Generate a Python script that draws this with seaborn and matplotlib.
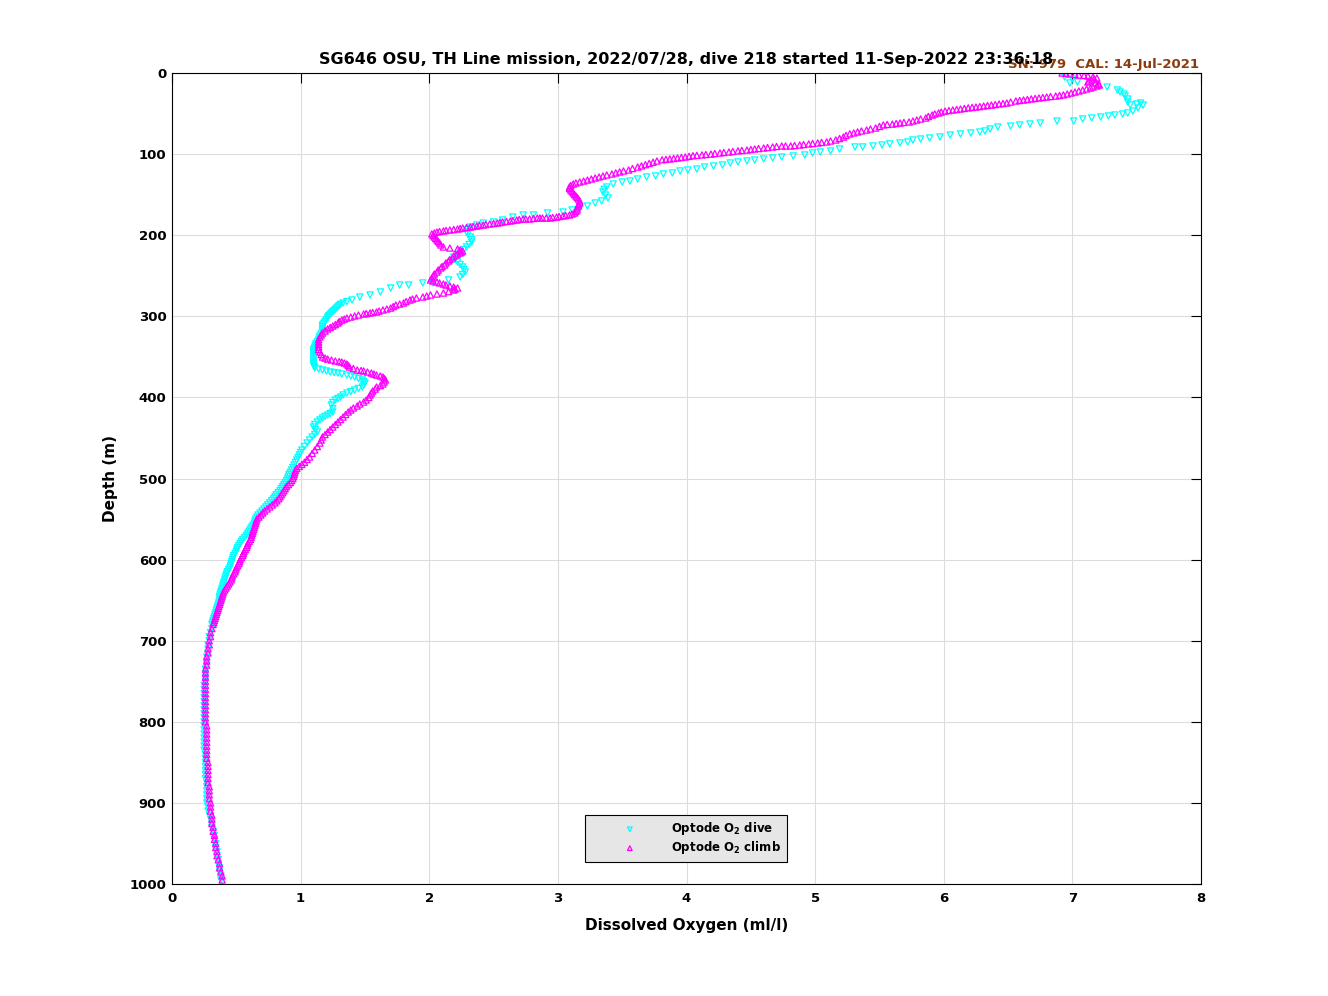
import numpy as np
import pandas as pd
import matplotlib
matplotlib.use("Agg")
import matplotlib.pyplot as plt
import seaborn as sns

# dive (optode O2, descending) - depth in m, O2 in ml/l
dive_depth = [
    4.9, 7.4, 11.1, 12.3, 17.3, 21.0, 23.4, 25.9, 28.4, 32.1, 35.8, 39.5, 38.2, 37.0, 39.5,
    43.2, 46.9, 49.3, 50.6, 51.8, 53.0, 54.3, 55.5, 56.7, 59.2, 59.2, 61.7, 62.9, 64.1, 65.4,
    66.6, 69.1, 71.5, 72.8, 74.0, 75.2, 76.5, 78.9, 80.2, 81.4, 82.6, 85.1, 86.3, 87.5, 88.8,
    90.0, 91.2, 91.2, 93.7, 96.2, 97.4, 98.6, 101.1, 102.3, 103.6, 104.8, 106.0, 107.3, 108.5,
    109.7, 111.0, 113.4, 114.7, 115.9, 118.4, 119.6, 120.8, 123.3, 124.5, 127.0, 128.2, 130.7,
    133.2, 134.4, 136.9, 140.6, 143.5, 146.7, 150.4, 154.1, 157.8, 160.3, 164.0, 166.5, 168.9,
    171.4, 172.6, 175.1, 175.1, 177.6, 181.3, 183.7, 185.0, 187.4, 189.9, 193.0, 196.1, 199.0,
    202.2, 205.3, 208.4, 211.5, 214.5, 217.6, 220.7, 223.8, 226.9, 230.0, 233.0, 236.1, 239.2,
    242.3, 245.4, 248.5, 251.5, 255.2, 258.9, 258.9, 261.4, 261.4, 265.1, 270.0, 273.7, 276.2,
    279.9, 281.8, 283.6, 285.2, 286.7, 288.3, 289.8, 291.3, 292.9, 294.4, 295.9, 297.5, 299.0,
    300.6, 302.1, 304.3, 306.4, 308.6, 310.7, 312.9, 315.0, 317.2, 319.4, 321.8, 324.3, 326.7,
    329.2, 331.4, 333.5, 335.7, 337.9, 339.7, 341.6, 343.4, 345.3, 348.0, 350.8, 353.6, 356.4,
    358.2, 360.0, 361.8, 363.7, 365.0, 366.2, 367.4, 368.7, 369.3, 369.9, 371.2, 372.4, 373.6,
    374.8, 376.7, 378.5, 380.3, 382.2, 384.7, 387.2, 389.0, 390.9, 392.8, 394.6, 397.0, 399.5,
    401.4, 403.2, 406.3, 409.4, 413.7, 418.0, 419.9, 421.7, 423.5, 425.4, 427.8, 430.3, 433.4,
    436.5, 439.6, 442.7, 445.8, 448.8, 452.5, 456.2, 460.5, 464.9, 468.0, 471.0, 474.1, 477.2,
    480.2, 483.3, 486.4, 489.5,
    492.5, 495, 497.5, 500, 502.5, 505, 507.5, 510, 512.5, 515, 517.5, 520, 522.5, 525, 527.5,
    530, 532.5, 535, 537.5, 540, 542.5, 545, 547.5, 550, 552.5, 555, 557.5, 560, 562.5, 565,
    567.5, 570, 572.5, 575, 577.5, 580, 582.5, 585, 587.5, 590, 592.5, 595, 597.5, 600, 602.5,
    605, 607.5, 610, 612.5, 615, 617.5, 620, 622.5, 625, 627.5, 630, 632.5, 635, 637.5, 640,
    642.5, 645, 647.5, 650, 652.5, 655, 657.5, 660, 662.5, 665, 667.5, 670, 672.5, 675, 677.5,
    680,
    685, 690, 695, 700, 705, 710, 715, 720, 725, 730, 735, 740, 745, 750, 755, 760,
    765, 770, 775, 780, 785, 790, 795, 800, 805, 810, 815, 820, 825, 830, 835, 840, 845, 850,
    855, 860, 865, 870, 875, 880, 885, 890, 895, 900, 905, 910, 915, 920, 925, 930, 935, 940,
    945, 950, 955, 960, 965, 970, 975, 980, 985, 990, 995,
]
dive_o2 = [
    6.94, 7.00, 7.04, 6.98, 7.27, 7.35, 7.37, 7.40, 7.41, 7.43, 7.43, 7.45, 7.50, 7.53, 7.55,
    7.51, 7.47, 7.43, 7.39, 7.33, 7.28, 7.22, 7.15, 7.08, 7.01, 6.88, 6.75, 6.67, 6.59, 6.52,
    6.42, 6.36, 6.32, 6.28, 6.21, 6.13, 6.05, 5.97, 5.89, 5.82, 5.76, 5.72, 5.66, 5.58, 5.52,
    5.45, 5.37, 5.31, 5.19, 5.12, 5.04, 4.98, 4.92, 4.83, 4.74, 4.67, 4.60, 4.53, 4.47,
    4.40, 4.34, 4.28, 4.21, 4.14, 4.08, 4.01, 3.95, 3.89, 3.82, 3.76, 3.69, 3.62,
    3.56, 3.50, 3.43, 3.38, 3.36, 3.35, 3.37, 3.39, 3.34, 3.29, 3.23, 3.17, 3.11,
    3.04, 2.92, 2.81, 2.73, 2.65, 2.57, 2.50, 2.42, 2.37, 2.32, 2.30, 2.29, 2.30,
    2.32, 2.33, 2.33, 2.31, 2.29, 2.27, 2.24, 2.21, 2.19, 2.20, 2.22, 2.24, 2.26,
    2.27, 2.28, 2.26, 2.24, 2.15, 2.03, 1.95, 1.84, 1.77, 1.70, 1.62, 1.54, 1.46,
    1.40, 1.36, 1.33, 1.31, 1.30, 1.29, 1.28, 1.27, 1.26, 1.25, 1.24, 1.23, 1.22,
    1.215, 1.21, 1.20, 1.19, 1.18, 1.17, 1.17, 1.17, 1.17, 1.17, 1.16, 1.15, 1.145,
    1.14, 1.13, 1.12, 1.115, 1.11, 1.105, 1.10, 1.10, 1.10, 1.10, 1.10, 1.10, 1.10,
    1.10, 1.10, 1.105, 1.11, 1.14, 1.17, 1.20, 1.23, 1.26, 1.29, 1.32, 1.36, 1.39,
    1.42, 1.45, 1.48, 1.49, 1.50, 1.49, 1.48, 1.45, 1.42, 1.39, 1.36, 1.33, 1.31,
    1.29, 1.27, 1.25, 1.24, 1.25, 1.25, 1.23, 1.21, 1.19, 1.17, 1.15, 1.13, 1.11,
    1.10, 1.115, 1.13, 1.11, 1.09, 1.07, 1.05, 1.03, 1.01, 1.00, 0.99, 0.98, 0.97,
    0.96, 0.95, 0.94, 0.93,
    0.92, 0.91, 0.905, 0.90, 0.89, 0.88, 0.87, 0.86, 0.85, 0.84, 0.825, 0.81, 0.80, 0.79, 0.775,
    0.76, 0.745, 0.73, 0.715, 0.70, 0.685, 0.67, 0.66, 0.65, 0.645, 0.64, 0.63, 0.62, 0.61, 0.60,
    0.59, 0.58, 0.565, 0.55, 0.54, 0.53, 0.52, 0.51, 0.505, 0.50, 0.49, 0.48, 0.475, 0.47, 0.465,
    0.46, 0.455, 0.45, 0.44, 0.43, 0.425, 0.42, 0.415, 0.41, 0.405, 0.40, 0.395, 0.39, 0.385, 0.38,
    0.375, 0.37, 0.37, 0.37, 0.365, 0.36, 0.355, 0.35, 0.345, 0.34, 0.335, 0.33, 0.325, 0.32, 0.315,
    0.31,
    0.31, 0.30, 0.29, 0.29, 0.28, 0.28, 0.28, 0.27, 0.27, 0.27, 0.26, 0.26, 0.26, 0.26, 0.25, 0.25,
    0.25, 0.25, 0.25, 0.25, 0.25, 0.25, 0.25, 0.25, 0.25, 0.25, 0.25, 0.25, 0.25, 0.25, 0.25, 0.26, 0.26, 0.26,
    0.26, 0.26, 0.26, 0.26, 0.27, 0.27, 0.27, 0.27, 0.27, 0.27, 0.28, 0.28, 0.29, 0.30, 0.31, 0.31, 0.32, 0.33,
    0.33, 0.34, 0.34, 0.35, 0.35, 0.36, 0.36, 0.37, 0.37, 0.38, 0.38,
]

# climb (optode O2, ascending)
climb_depth = [
    0.0, 0.6, 1.2, 1.9, 2.5, 3.1, 3.7, 5.0, 6.2, 7.4, 8.6, 9.9, 11.1, 12.3, 13.5, 14.8, 16.0,
    17.3, 18.5, 19.7, 21.0, 22.2, 23.5, 24.7, 25.9, 27.0, 27.7, 28.4, 29.0, 29.6, 30.2, 30.8,
    31.4, 32.0, 32.7, 33.3, 33.9, 34.5, 35.8, 37.0, 37.6, 38.2, 38.9, 39.5, 40.1, 40.7, 41.4,
    42.0, 42.5, 43.0, 43.7, 44.4, 45.0, 45.6, 46.3, 47.0, 48.2, 49.3, 50.5, 51.8, 53.6, 55.5,
    56.7, 58.0, 59.2, 60.4, 61.0, 61.7, 62.3, 63.0, 63.5, 64.0, 65.9, 67.8, 69.0, 70.3, 71.5,
    72.7, 73.9, 75.0, 77.0, 79.0, 80.8, 82.6, 83.8, 85.0, 85.6, 86.3, 86.9, 87.5, 88.2, 88.8,
    89.4, 90.0, 90.0, 90.0, 90.6, 91.2, 91.9, 92.5, 93.1, 93.7, 94.4, 95.0, 95.5, 96.0, 96.7,
    97.4, 98.0, 98.6, 99.3, 100.0, 100.5, 101.0, 101.5, 102.0, 102.8, 103.6, 104.2, 104.8,
    105.4, 106.0, 106.5, 107.0, 108.5, 110.0, 111.5, 113.0, 114.5, 116.0, 117.8, 119.6, 120.8,
    122.0, 123.2, 124.5, 125.7, 127.0, 128.2, 129.5, 130.7, 132.0, 133.2, 134.4, 135.6, 136.9,
    138.7, 140.6, 142.4, 144.3, 146.1, 148.0, 149.8, 151.7, 153.5, 155.4, 157.8, 160.3, 162.1,
    164.0, 166.4, 168.9, 170.7, 172.6, 173.9, 175.1, 175.7, 176.3, 177.0, 177.6, 178.2, 178.8,
    178.8, 178.8, 178.8, 178.8, 179.4, 180.0, 180.0, 180.0, 180.6, 181.3, 181.9, 182.5, 183.1,
    183.7, 184.4, 185.0, 185.6, 186.2, 186.8, 187.4, 188.0, 188.7, 189.3, 189.9, 190.5, 191.1,
    191.8, 192.4, 193.0, 193.6, 194.2, 194.8, 195.5, 196.1, 197.3, 198.5, 200.4, 202.2, 204.0,
    205.9, 207.7, 209.6, 212.0, 214.5, 215.8, 217.0, 218.3, 219.5, 220.7, 221.9, 223.2, 224.4,
    226.2, 228.1, 230.0, 231.8, 234.2, 236.7, 238.6, 240.4, 242.9, 245.4, 247.8, 250.3, 252.8,
    255.2, 256.5, 257.7, 258.9, 260.2, 261.4, 262.6, 263.9, 265.1, 266.4, 267.6, 269.5, 271.3,
    272.5, 273.7, 275.0, 276.2, 277.4, 278.7, 279.9, 281.8, 283.6, 284.9, 286.1, 288.0, 289.8,
    291.0, 292.2, 293.5, 294.7, 295.3, 295.9, 296.6, 297.2, 298.4, 299.6, 300.9, 302.1, 303.4,
    304.6, 306.5, 308.3, 310.2, 312.0, 313.8, 315.6, 318.1, 320.6, 323.0, 325.5, 328.6, 331.7,
    334.8, 337.9, 341.0, 344.0, 347.1, 350.2, 351.5, 352.7, 353.9, 355.1, 355.8, 356.4, 357.6,
    358.8, 360.7, 362.5, 364.4, 366.2, 366.8, 367.4, 368.7, 369.9, 371.2, 372.4, 373.6, 374.8,
    376.7, 378.5, 381.0, 383.5, 385.4, 387.2, 389.7, 392.1, 394.6, 397.0, 400.1, 403.2, 405.7,
    408.1, 410.6, 413.0, 415.5, 418.0, 421.1, 424.2, 427.3, 430.3, 433.4, 436.5, 439.6, 442.7,
    445.8, 448.8, 452.5, 456.2, 460.6, 464.9, 469.0, 473.5, 476.5,
    480, 482.5, 485, 487.5, 490, 492.5, 495, 497.5, 500, 502.5, 505, 507.5, 510, 512.5, 515,
    517.5, 520, 522.5, 525, 527.5, 530, 532.5, 535, 537.5, 540, 542.5, 545, 547.5, 550, 552.5,
    555, 557.5, 560, 562.5, 565, 567.5, 570, 572.5, 575, 577.5, 580, 582.5, 585, 587.5, 590,
    592.5, 595, 597.5, 600, 602.5, 605, 607.5, 610, 612.5, 615, 617.5, 620, 622.5, 625, 627.5,
    630, 632.5, 635, 637.5, 640, 642.5, 645, 647.5, 650, 652.5, 655, 657.5, 660, 662.5, 665,
    667.5, 670, 672.5, 675, 677.5, 680,
    685, 690, 695, 700, 705, 710, 715, 720, 725, 730, 735, 740, 745,
    750, 755, 760, 765, 770, 775, 780, 785, 790, 795, 800, 805, 810, 815, 820, 825, 830, 835,
    840, 845, 850, 855, 860, 865, 870, 875, 880, 885, 890, 895, 900, 905, 910, 915, 920, 925,
    930, 935, 940, 945, 950, 955, 960, 965, 970, 975, 980, 985, 990, 995,
]
climb_o2 = [
    6.92, 6.95, 6.98, 7.02, 7.05, 7.09, 7.12, 7.16, 7.19, 7.17, 7.15, 7.13, 7.12, 7.18, 7.20, 7.21, 7.19,
    7.16, 7.14, 7.11, 7.08, 7.05, 7.02, 6.99, 6.96, 6.93, 6.90, 6.87, 6.83, 6.80, 6.77, 6.74,
    6.71, 6.68, 6.65, 6.62, 6.59, 6.56, 6.52, 6.49, 6.46, 6.43, 6.40, 6.37, 6.34, 6.31, 6.28,
    6.25, 6.22, 6.19, 6.16, 6.13, 6.10, 6.07, 6.04, 6.01, 5.98, 5.96, 5.93, 5.91, 5.88, 5.86,
    5.82, 5.79, 5.76, 5.73, 5.69, 5.66, 5.63, 5.60, 5.56, 5.53, 5.50, 5.47, 5.43, 5.40, 5.36,
    5.33, 5.30, 5.27, 5.24, 5.22, 5.19, 5.16, 5.12, 5.09, 5.05, 5.02, 4.98, 4.95, 4.91, 4.88,
    4.84, 4.81, 4.77, 4.74, 4.70, 4.67, 4.63, 4.60, 4.56, 4.53, 4.50, 4.47, 4.43, 4.40, 4.36,
    4.33, 4.29, 4.26, 4.22, 4.19, 4.15, 4.12, 4.08, 4.05, 4.02, 3.99, 3.96, 3.93,
    3.90, 3.87, 3.84, 3.81, 3.77, 3.74, 3.71, 3.68, 3.65, 3.62, 3.58, 3.55, 3.51,
    3.48, 3.45, 3.42, 3.38, 3.35, 3.32, 3.29, 3.26, 3.23, 3.20, 3.17, 3.14, 3.12,
    3.10, 3.09, 3.09, 3.10, 3.11, 3.12, 3.13, 3.14, 3.15, 3.16, 3.17, 3.17, 3.16,
    3.16, 3.15, 3.15, 3.14, 3.13, 3.11, 3.09, 3.06, 3.04, 3.01, 2.99, 2.96, 2.94,
    2.91, 2.88, 2.86, 2.84, 2.81, 2.78, 2.75, 2.73, 2.70, 2.68, 2.65, 2.63, 2.60,
    2.57, 2.55, 2.53, 2.50, 2.47, 2.44, 2.42, 2.39, 2.37, 2.34, 2.32, 2.29, 2.26,
    2.24, 2.22, 2.19, 2.16, 2.13, 2.11, 2.08, 2.06, 2.04, 2.02, 2.03, 2.04, 2.05,
    2.06, 2.07, 2.08, 2.09, 2.11, 2.16, 2.22, 2.24, 2.26, 2.25, 2.24, 2.22, 2.21,
    2.19, 2.18, 2.16, 2.15, 2.13, 2.12, 2.10, 2.09, 2.07, 2.06, 2.04, 2.03, 2.02,
    2.01, 2.03, 2.06, 2.08, 2.11, 2.13, 2.16, 2.19, 2.22, 2.20, 2.19, 2.15, 2.11,
    2.06, 2.01, 1.98, 1.95, 1.90, 1.87, 1.85, 1.82, 1.80, 1.77, 1.74, 1.72, 1.70,
    1.67, 1.64, 1.61, 1.59, 1.56, 1.54, 1.51, 1.49, 1.45, 1.42, 1.39, 1.36, 1.34,
    1.32, 1.30, 1.29, 1.27, 1.25, 1.23, 1.21, 1.19, 1.17, 1.16, 1.15, 1.14, 1.14,
    1.14, 1.14, 1.14, 1.15, 1.16, 1.17, 1.19, 1.21, 1.24, 1.27, 1.30, 1.32, 1.34,
    1.36, 1.37, 1.38, 1.41, 1.44, 1.47, 1.49, 1.52, 1.55, 1.57, 1.59, 1.62, 1.64,
    1.65, 1.66, 1.65, 1.64, 1.62, 1.59, 1.58, 1.56, 1.55, 1.54, 1.53, 1.51, 1.49,
    1.46, 1.44, 1.41, 1.39, 1.37, 1.35, 1.33, 1.31, 1.29, 1.27, 1.25, 1.23, 1.21,
    1.19, 1.17, 1.16, 1.15, 1.13, 1.11, 1.09, 1.07, 1.05,
    1.03, 1.01, 0.99, 0.97, 0.96, 0.955, 0.95, 0.945, 0.94, 0.93, 0.92, 0.905, 0.89, 0.88, 0.87,
    0.86, 0.85, 0.84, 0.83, 0.815, 0.80, 0.78, 0.76, 0.74, 0.72, 0.705, 0.69, 0.675, 0.66, 0.655,
    0.65, 0.645, 0.64, 0.635, 0.63, 0.625, 0.62, 0.615, 0.61, 0.60, 0.59, 0.585, 0.58, 0.57, 0.56,
    0.555, 0.55, 0.54, 0.53, 0.525, 0.52, 0.51, 0.50, 0.495, 0.49, 0.48, 0.47, 0.465, 0.46, 0.45,
    0.44, 0.43, 0.42, 0.41, 0.40, 0.395, 0.39, 0.385, 0.38, 0.375, 0.37, 0.365, 0.36, 0.355, 0.35,
    0.345, 0.34, 0.335, 0.33, 0.325, 0.32,
    0.31, 0.30, 0.30, 0.29, 0.29, 0.28, 0.28, 0.27, 0.27, 0.27, 0.26, 0.26, 0.26,
    0.26, 0.26, 0.26, 0.26, 0.26, 0.26, 0.26, 0.26, 0.26, 0.26, 0.26, 0.27, 0.27, 0.27, 0.27, 0.27, 0.27, 0.27,
    0.27, 0.27, 0.28, 0.28, 0.28, 0.28, 0.28, 0.28, 0.29, 0.29, 0.29, 0.29, 0.30, 0.30, 0.30, 0.31, 0.31, 0.31,
    0.32, 0.32, 0.33, 0.33, 0.34, 0.34, 0.35, 0.35, 0.36, 0.37, 0.37, 0.38, 0.39, 0.39,
]

title = "SG646 OSU, TH Line mission, 2022/07/28, dive 218 started 11-Sep-2022 23:36:18"
cal_text = "SN: 979  CAL: 14-Jul-2021"

sns.set_style("white")
plt.rcParams["font.family"] = ["DejaVu Sans"]
plt.rcParams["font.weight"] = "bold"
for key in ["text.color", "axes.labelcolor", "xtick.color", "ytick.color"]:
    plt.rcParams[key] = "black"

dive = pd.DataFrame({"depth": dive_depth, "o2": dive_o2})
climb = pd.DataFrame({"depth": climb_depth, "o2": climb_o2})

fig = plt.figure(figsize=(13.28, 9.96), dpi=100)
ax = fig.add_axes([0.1295, 0.1124, 0.7749, 0.8143])

sns.scatterplot(data=dive, x="o2", y="depth", ax=ax, marker="v", s=20,
                facecolor="none", edgecolor="#00ffff", linewidth=0.9,
                label=r"Optode O$_\mathbf{2}$ dive")
sns.scatterplot(data=climb, x="o2", y="depth", ax=ax, marker="^", s=20,
                facecolor="none", edgecolor="#ff00ff", linewidth=0.9,
                label=r"Optode O$_\mathbf{2}$ climb")

ax.set_xlim(0, 8)
ax.set_ylim(1000, 0)
ax.set_xticks(range(0, 9))
ax.set_yticks(range(0, 1001, 100))
ax.grid(True, color="#dcdcdc", linewidth=0.8)
ax.set_axisbelow(True)
ax.tick_params(direction="in", length=7, width=0.8, top=True, right=True,
               labelsize=9.5, colors="black")
ax.tick_params(axis="x", pad=6)
ax.tick_params(axis="y", pad=4)
for s in ax.spines.values():
    s.set_color("black")
    s.set_linewidth(0.8)

ax.set_xlabel("Dissolved Oxygen (ml/l)", fontsize=11, fontweight="bold", labelpad=9)
ax.set_ylabel("Depth (m)", fontsize=11, fontweight="bold", labelpad=8)
ax.set_title(title, fontsize=11.5, fontweight="bold", pad=6.5, color="black")
ax.text(0.998, 1.002, cal_text, transform=ax.transAxes, ha="right", va="bottom",
        color="#8c3b0c", fontsize=9.5, fontweight="bold")

leg = ax.legend(loc="lower center", bbox_to_anchor=(0.4995, 0.027), frameon=True,
                fancybox=False, edgecolor="black", facecolor="#e6e6e6", framealpha=1,
                fontsize=8.5, handlelength=6.6, handletextpad=0.2, borderpad=0.5,
                labelspacing=0.15, markerscale=0.75, borderaxespad=0)
leg.get_frame().set_linewidth(0.8)

fig.savefig("out.png", dpi=100)
